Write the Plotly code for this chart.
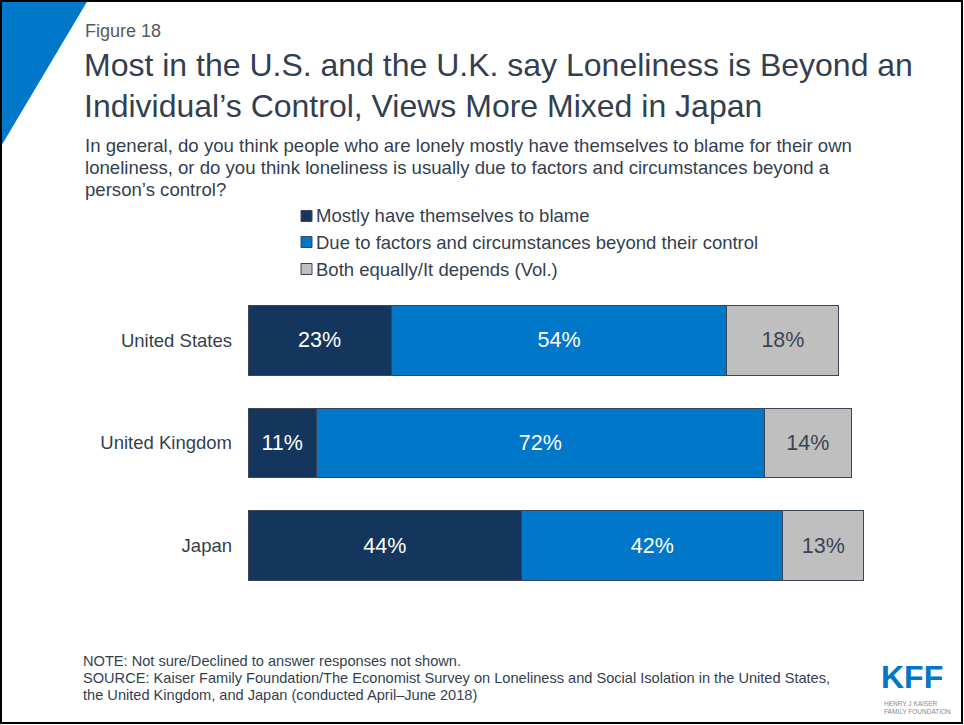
import plotly.graph_objects as go

countries = ["United States", "United Kingdom", "Japan"]
series_names = [
    "Mostly have themselves to blame",
    "Due to factors and circumstances beyond their control",
    "Both equally/It depends (Vol.)",
]
blame_self = [23, 11, 44]
beyond_control = [54, 72, 42]
both_depends = [18, 14, 13]

values = [blame_self, beyond_control, both_depends]
colors = ["#14365D", "#0077C8", "#BFBFBF"]
text_colors = ["#FFFFFF", "#FFFFFF", "#3B4553"]

W, H = 964, 725
L, R, T, B = 248, 870, 289, 597


def px(x):
    return (x - L) / (R - L)


def py(y):
    return (B - y) / (B - T)


fig = go.Figure()
for name, vals, col, tcol in zip(series_names, values, colors, text_colors):
    fig.add_trace(go.Bar(
        y=countries, x=vals, name=name, orientation="h",
        marker=dict(color=col, line=dict(color="#3A4656", width=1)),
        text=[f"{v}%" for v in vals], textposition="inside",
        insidetextanchor="middle", textangle=0,
        textfont=dict(family="Liberation Sans, Arial", size=21.5, color=tcol),
        hoverinfo="skip",
    ))

fig.update_layout(
    barmode="stack",
    width=W, height=H,
    margin=dict(l=L, r=W - R, t=T, b=H - B, pad=0),
    paper_bgcolor="white", plot_bgcolor="white",
    showlegend=False,
    bargap=0.32,
    font=dict(family="Liberation Sans, Arial", color="#333F50"),
    xaxis=dict(range=[0, 100], visible=False, fixedrange=True),
    yaxis=dict(autorange="reversed", showgrid=False, showline=False, zeroline=False,
               ticks="", ticklabelstandoff=15, fixedrange=True,
               tickfont=dict(size=18.5, color="#333F50", family="Liberation Sans, Arial")),
)

shapes = []
# blue triangle
shapes.append(dict(type="path", xref="paper", yref="paper",
                   path=f"M {px(0)},{py(0)} L {px(88)},{py(0)} L {px(0)},{py(148)} Z",
                   fillcolor="#0077C8", line=dict(width=0), layer="below"))
# border
shapes.append(dict(type="rect", xref="paper", yref="paper",
                   x0=px(1), x1=px(962), y0=py(1), y1=py(723),
                   line=dict(color="#000000", width=2), fillcolor="rgba(0,0,0,0)"))

annotations = []


def text(x, y, s, size, color="#333F50", anchor="left", yanchor="middle", family="Liberation Sans, Arial"):
    annotations.append(dict(x=px(x), y=py(y), xref="paper", yref="paper", text=s,
                            showarrow=False, xanchor=anchor, yanchor=yanchor,
                            font=dict(size=size, color=color, family=family), align="left"))


text(83, 31, "Figure 18", 18, color="#595959")
text(82, 65, "Most in the U.S. and the U.K. say Loneliness is Beyond an", 32)
text(82, 106, "Individual\u2019s Control, Views More Mixed in Japan", 32)
text(83, 145, "In general, do you think people who are lonely mostly have themselves to blame for their own", 18.6)
text(83, 167, "loneliness, or do you think loneliness is usually due to factors and circumstances beyond a", 18.6)
text(83, 189, "person\u2019s control?", 18.6)

leg_y = [216, 242, 269]
for name, col, yy in zip(series_names, colors, leg_y):
    shapes.append(dict(type="rect", xref="paper", yref="paper",
                       x0=px(301), x1=px(312), y0=py(yy - 5.5), y1=py(yy + 5.5),
                       fillcolor=col, line=dict(color="#3A4656", width=1)))
    text(314, yy, name, 18.5)

text(81, 661, "NOTE: Not sure/Declined to answer responses not shown.", 14.6)
text(81, 678, "SOURCE: Kaiser Family Foundation/The Economist Survey on Loneliness and Social Isolation in the United States,", 14.6)
text(81, 695, "the United Kingdom, and Japan (conducted April\u2013June 2018)", 14.6)

text(912, 697, "<b>KFF</b>", 32, color="#0077C8", anchor="center", yanchor="bottom",
     family="Liberation Sans, Arial")
text(882, 698, "HENRY J KAISER<br>FAMILY FOUNDATION", 6.5, color="#7F8A96", yanchor="top")

fig.update_layout(shapes=shapes, annotations=annotations)
fig.write_html("out.html", config={"displayModeBar": False},
               post_script="document.body.style.margin='0';document.body.style.padding='0';")
